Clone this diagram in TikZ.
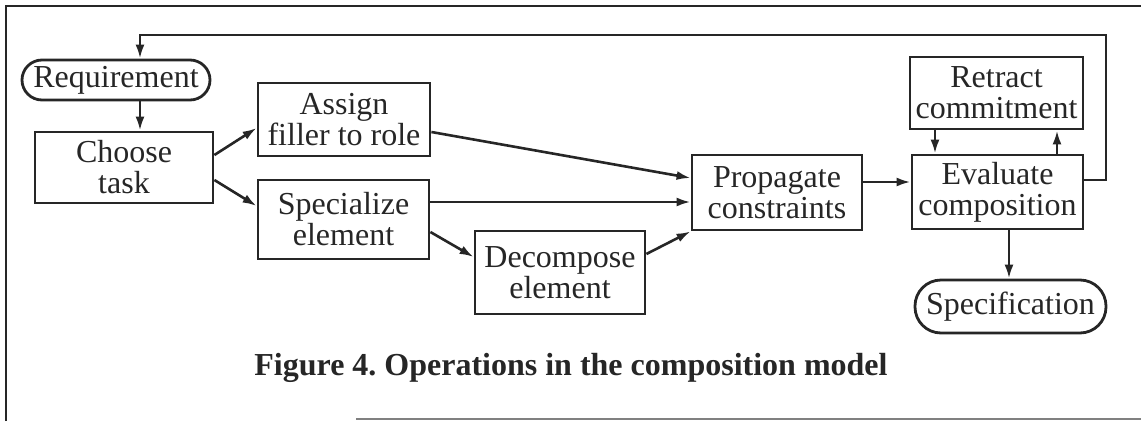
\documentclass[tikz,border=0pt]{standalone}
\usepackage{fontspec}
\setmainfont{Liberation Serif}
\usetikzlibrary{arrows.meta,calc}
\frenchspacing
\begin{document}
\begin{tikzpicture}[x=1pt,y=-1pt,
  box/.style={draw=black!85,line width=2.8pt,inner sep=0pt,align=center,
    text=black!85,font=\fontsize{32}{31}\selectfont},
  term/.style={box,rounded corners=#1},
  flow/.style={draw=black!85,line width=2.6pt,-{Latex[length=14pt,width=9pt]}},
  frame/.style={draw=black!85,line width=2.4pt}]
\useasboundingbox (0,0) rectangle (1141,421);

% outer frame
\draw[frame] (6,421) -- (6,6) -- (1141,6);
\draw[line width=1.2pt,gray] (356,419) -- (1141,419);

% operations
\node[term=20pt,minimum width=188pt,minimum height=40pt] (req) at (116,80) {Requirement};
\node[box,minimum width=178pt,minimum height=71pt] (choose) at (124,167.5) {Choose\\task};
\node[box,minimum width=172pt,minimum height=73pt] (assign) at (344,119.5) {Assign\\filler to role};
\node[box,minimum width=171pt,minimum height=79pt] (spec) at (343.5,219.5) {Specialize\\element};
\node[box,minimum width=170pt,minimum height=83pt] (decomp) at (560,272.5) {Decompose\\element};
\node[box,minimum width=170pt,minimum height=75pt] (prop) at (777,192.5) {Propagate\\constraints};
\node[box,minimum width=171pt,minimum height=74pt] (eval) at (997.5,192) {Evaluate\\composition};
\node[box,minimum width=173pt,minimum height=72pt] (retract) at (996.5,93) {Retract\\commitment};
\node[term=26pt,minimum width=191pt,minimum height=53pt] (specif) at (1010.5,306.5) {Specification};

% feedback loop
\coordinate (lpr) at (1106,180);
\coordinate (lpt) at (1106,35);
\coordinate (lpl) at (140,35);
\draw[flow] (eval.east |- lpr) -- (lpr) -- (lpt) -- (lpl) -- (req.north -| lpl);

% connectors
\draw[flow] (req.south -| lpl) -- (choose.north -| lpl);
\draw[flow] (choose.east |- 0,155) -- (assign.west |- 0,128);
\draw[flow] (choose.east |- 0,180) -- (spec.west |- 0,206);
\draw[flow] (assign.east |- 0,132) -- (prop.west |- 0,178);
\draw[flow] (spec.east |- 0,202) -- (prop.west |- 0,202);
\draw[flow] (spec.east |- 0,232) -- (decomp.west |- 0,257);
\draw[flow] (decomp.east |- 0,254) -- (prop.south west);
\draw[flow] (prop.east |- 0,182) -- (eval.west |- 0,182);
\draw[flow] (retract.south -| 935,0) -- (eval.north -| 935,0);
\draw[flow] (eval.north -| 1057,0) -- (retract.south -| 1057,0);
\draw[flow] (eval.south -| 1009,0) -- (specif.north -| 1009,0);

% caption
\node[font=\fontsize{32}{32}\selectfont\bfseries,text=black!85,inner sep=0pt] (cap) at (571,368)
  {Figure 4. Operations in the composition model};
\end{tikzpicture}
\end{document}
